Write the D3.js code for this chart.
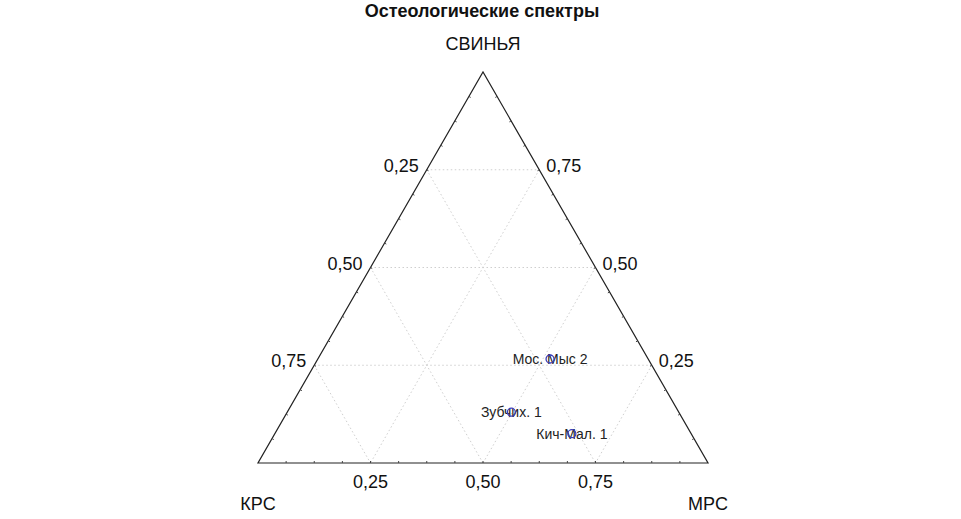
<!DOCTYPE html>
<html>
<head>
<meta charset="utf-8">
<script src="https://cdn.jsdelivr.net/npm/d3@7"></script>
<style>
  html, body { margin: 0; padding: 0; background: #fff; }
  svg text { font-family: "Liberation Sans", Arial, sans-serif; fill: #111; }
</style>
</head>
<body>
<svg id="chart" width="961" height="519"></svg>
<script>
// ternary data: fractions of КРС / МРС / СВИНЬЯ per site
const sites = ["Мос. Мыс 2", "Зубчих. 1", "Кич-Мал. 1"];
const krs   = [0.218, 0.372, 0.265];
const mrs   = [0.516, 0.498, 0.660];
const pig   = [0.266, 0.130, 0.075];

const gridValues = [0.25, 0.5, 0.75];
const tickStep = 1 / 16;
const cornerLabels = ["КРС", "МРС", "СВИНЬЯ"];
const title = "Остеологические спектры";

const svg = d3.select("#chart");
const fmt = d3.formatLocale({ decimal: ",", thousands: " ", grouping: [3], currency: ["", ""] }).format(".2f");

// scales: x runs along the base (МРС + half СВИНЬЯ), y is СВИНЬЯ height
const x = d3.scaleLinear().domain([0, 1]).range([258, 708]);
const y = d3.scaleLinear().domain([0, 1]).range([463, 72]);

// (krs, mrs, pig) -> screen point
function pt(k, m, p){ return [x(m + p / 2), y(p)]; }

const line = d3.line();

// gridlines (dotted) - three families
const grid = svg.append("g")
  .attr("fill", "none")
  .attr("stroke", "#cfcfcf")
  .attr("stroke-width", 1)
  .attr("stroke-dasharray", "1.5,2.5");

for (const v of gridValues){
  // СВИНЬЯ constant (horizontal)
  grid.append("path").attr("d", line([pt(1 - v, 0, v), pt(0, 1 - v, v)]));
  // КРС constant
  grid.append("path").attr("d", line([pt(v, 0, 1 - v), pt(v, 1 - v, 0)]));
  // МРС constant
  grid.append("path").attr("d", line([pt(0, v, 1 - v), pt(1 - v, v, 0)]));
}

// triangle
svg.append("path")
  .attr("d", line([pt(1, 0, 0), pt(0, 1, 0), pt(0, 0, 1)]) + "Z")
  .attr("fill", "none")
  .attr("stroke", "#222")
  .attr("stroke-width", 1.2);

// small inward ticks along each edge
const tickVals = d3.range(1, 16).map(i => i * tickStep);
const ticks = svg.append("g").attr("stroke", "#444").attr("stroke-width", 1);
const tl = 2;
for (const t of tickVals){
  // base (МРС)
  const [bx, by] = pt(1 - t, t, 0);
  ticks.append("line").attr("x1", bx).attr("y1", by).attr("x2", bx).attr("y2", by - tl);
  // left edge
  const [lx, ly] = pt(1 - t, 0, t);
  ticks.append("line").attr("x1", lx).attr("y1", ly)
    .attr("x2", lx + tl * Math.cos(Math.PI / 6)).attr("y2", ly + tl * Math.sin(Math.PI / 6));
  // right edge
  const [rx, ry] = pt(0, 1 - t, t);
  ticks.append("line").attr("x1", rx).attr("y1", ry)
    .attr("x2", rx - tl * Math.cos(Math.PI / 6)).attr("y2", ry + tl * Math.sin(Math.PI / 6));
}

// tick labels
const labels = svg.append("g").attr("font-size", 18);
for (const v of gridValues){
  // left side: КРС
  const [lx, ly] = pt(v, 0, 1 - v);
  labels.append("text").attr("x", lx - 8).attr("y", ly + 2)
    .attr("text-anchor", "end").text(fmt(v));
  // right side: СВИНЬЯ
  const [rx, ry] = pt(0, 1 - v, v);
  labels.append("text").attr("x", rx + 7).attr("y", ry + 2)
    .attr("text-anchor", "start").text(fmt(v));
  // bottom: МРС
  const [bx, by] = pt(1 - v, v, 0);
  labels.append("text").attr("x", bx).attr("y", by + 25)
    .attr("text-anchor", "middle").text(fmt(v));
}

// corner labels
const corners = [pt(1, 0, 0), pt(0, 1, 0), pt(0, 0, 1)];
svg.append("text").attr("x", corners[0][0]).attr("y", 510)
  .attr("text-anchor", "middle").attr("font-size", 18).text(cornerLabels[0]);
svg.append("text").attr("x", corners[1][0]).attr("y", 510)
  .attr("text-anchor", "middle").attr("font-size", 18).text(cornerLabels[1]);
svg.append("text").attr("x", corners[2][0]).attr("y", 50)
  .attr("text-anchor", "middle").attr("font-size", 18).text(cornerLabels[2]);

// title
svg.append("text").attr("x", 482).attr("y", 17)
  .attr("text-anchor", "middle").attr("font-size", 18).attr("font-weight", "bold")
  .text(title);

// points + labels
const pts = sites.map((s, i) => ({ name: s, p: pt(krs[i], mrs[i], pig[i]) }));

svg.append("g").selectAll("text")
  .data(pts).join("text")
  .attr("x", d => d.p[0])
  .attr("y", d => d.p[1] + 5)
  .attr("text-anchor", "middle")
  .attr("font-size", 14)
  .style("fill", "#222")
  .text(d => d.name);

svg.append("g").selectAll("circle")
  .data(pts).join("circle")
  .attr("cx", d => d.p[0])
  .attr("cy", d => d.p[1])
  .attr("r", 4)
  .attr("fill", "none")
  .attr("stroke", "#3a3ab8")
  .attr("stroke-width", 1.3);
</script>
</body>
</html>
